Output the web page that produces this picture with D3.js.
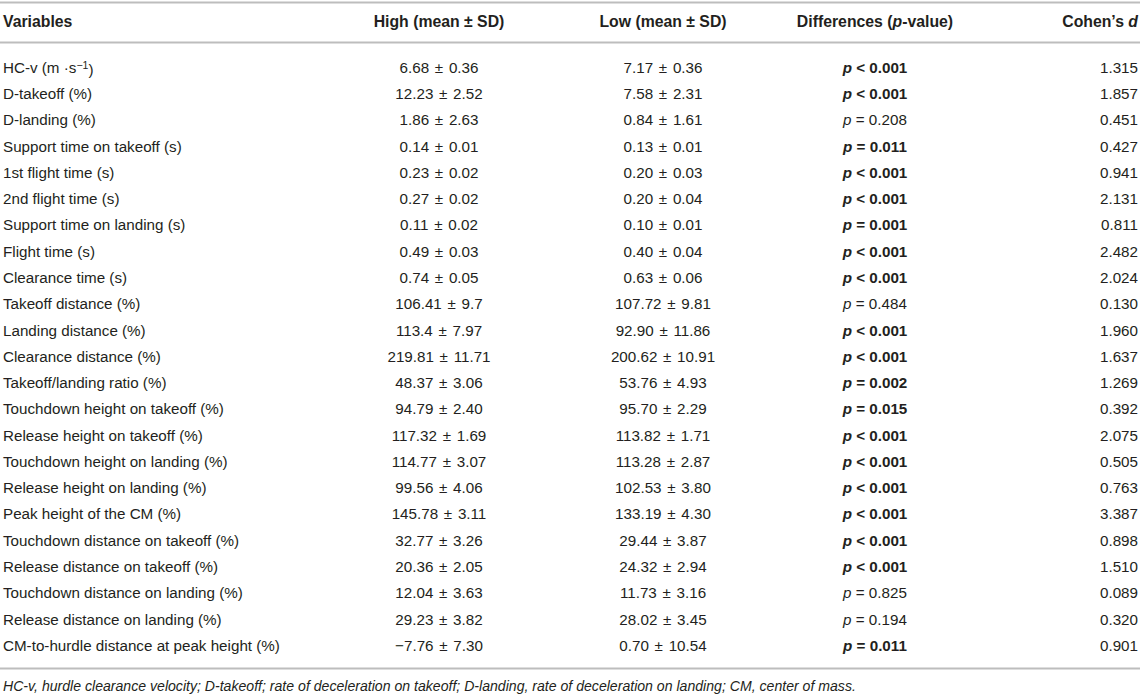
<!DOCTYPE html>
<html>
<head>
<meta charset="utf-8">
<script src="https://cdn.jsdelivr.net/npm/d3@7"></script>
<style>
  body { margin: 0; background: #fff; }
  svg text { font-family: "Liberation Sans", Arial, Helvetica, sans-serif; fill: #231f20; }
</style>
</head>
<body>
<div id="table"></div>
<script>
const variables = [
  'HC-v (m ·s|−1|)', 'D-takeoff (%)', 'D-landing (%)', 'Support time on takeoff (s)',
  '1st flight time (s)', '2nd flight time (s)', 'Support time on landing (s)', 'Flight time (s)',
  'Clearance time (s)', 'Takeoff distance (%)', 'Landing distance (%)', 'Clearance distance (%)',
  'Takeoff/landing ratio (%)', 'Touchdown height on takeoff (%)', 'Release height on takeoff (%)',
  'Touchdown height on landing (%)', 'Release height on landing (%)', 'Peak height of the CM (%)',
  'Touchdown distance on takeoff (%)', 'Release distance on takeoff (%)',
  'Touchdown distance on landing (%)', 'Release distance on landing (%)',
  'CM-to-hurdle distance at peak height (%)'
]
const highMean = ['6.68', '12.23', '1.86', '0.14', '0.23', '0.27', '0.11', '0.49', '0.74', '106.41', '113.4', '219.81',
  '48.37', '94.79', '117.32', '114.77', '99.56', '145.78', '32.77', '20.36', '12.04', '29.23', '−7.76']
const highSD = ['0.36', '2.52', '2.63', '0.01', '0.02', '0.02', '0.02', '0.03', '0.05', '9.7', '7.97', '11.71',
  '3.06', '2.40', '1.69', '3.07', '4.06', '3.11', '3.26', '2.05', '3.63', '3.82', '7.30']
const lowMean = ['7.17', '7.58', '0.84', '0.13', '0.20', '0.20', '0.10', '0.40', '0.63', '107.72', '92.90', '200.62',
  '53.76', '95.70', '113.82', '113.28', '102.53', '133.19', '29.44', '24.32', '11.73', '28.02', '0.70']
const lowSD = ['0.36', '2.31', '1.61', '0.01', '0.03', '0.04', '0.01', '0.04', '0.06', '9.81', '11.86', '10.91',
  '4.93', '2.29', '1.71', '2.87', '3.80', '4.30', '3.87', '2.94', '3.16', '3.45', '10.54']
const pOps = ['<', '<', '=', '=', '<', '<', '=', '<', '<', '=', '<', '<',
  '=', '=', '<', '<', '<', '<', '<', '<', '=', '=', '=']
const pValues = ['0.001', '0.001', '0.208', '0.011', '0.001', '0.001', '0.001', '0.001', '0.001', '0.484', '0.001', '0.001',
  '0.002', '0.015', '0.001', '0.001', '0.001', '0.001', '0.001', '0.001', '0.825', '0.194', '0.011']
const significant = [1, 1, 0, 1, 1, 1, 1, 1, 1, 0, 1, 1, 1, 1, 1, 1, 1, 1, 1, 1, 0, 0, 1]
const cohensD = ['1.315', '1.857', '0.451', '0.427', '0.941', '2.131', '0.811', '2.482', '2.024', '0.130', '1.960', '1.637',
  '1.269', '0.392', '2.075', '0.505', '0.763', '3.387', '0.898', '1.510', '0.089', '0.320', '0.901']
const columns = ['Variables', 'High', 'Low', 'Differences', 'Cohen']
const footnote = 'HC-v, hurdle clearance velocity; D-takeoff; rate of deceleration on takeoff; D-landing, rate of deceleration on landing; CM, center of mass.'

const width = 1143
const height = 696
const FONT_SIZE = 15.2
const HEAD_SIZE = 15.8

const rows = variables.map((v, i) => ({
  variable: v, high: `${highMean[i]} ± ${highSD[i]}`, low: `${lowMean[i]} ± ${lowSD[i]}`,
  op: pOps[i], p: pValues[i], sig: significant[i], d: cohensD[i]
}))

const scaleY = d3.scalePoint().domain(d3.range(rows.length)).range([67.5, 645.5])
const scaleX = d3.scaleOrdinal().domain(columns).range([3, 439, 663, 875, 1138])

const svg = d3.select('#table').append('svg')
  .attr('width', width)
  .attr('height', height)

// rules
const rules = [2.5, 42.5, 668.5]
svg.selectAll('.rule').data(rules)
  .enter().append('line')
    .attr('class', 'rule')
    .attr('x1', 0)
    .attr('x2', 1140)
    .attr('y1', d => d)
    .attr('y2', d => d)
    .style('stroke', '#bdbdbd')
    .style('stroke-width', 2)

// header
const header = svg.append('g').attr('class', 'header')
  .style('font-size', `${HEAD_SIZE}px`)
  .style('font-weight', 'bold')

const headY = 21.5
header.append('text').attr('x', scaleX('Variables')).attr('y', headY).attr('dy', '0.35em').text('Variables')
header.append('text').attr('x', scaleX('High')).attr('y', headY).attr('dy', '0.35em')
  .attr('text-anchor', 'middle').text('High (mean ± SD)')
header.append('text').attr('x', scaleX('Low')).attr('y', headY).attr('dy', '0.35em')
  .attr('text-anchor', 'middle').text('Low (mean ± SD)')
const diffHead = header.append('text').attr('x', scaleX('Differences')).attr('y', headY).attr('dy', '0.35em')
  .attr('text-anchor', 'middle')
diffHead.append('tspan').text('Differences (')
diffHead.append('tspan').style('font-style', 'italic').text('p')
diffHead.append('tspan').text('-value)')
const cohHead = header.append('text').attr('x', scaleX('Cohen')).attr('y', headY).attr('dy', '0.35em')
  .attr('text-anchor', 'end')
cohHead.append('tspan').text('Cohen’s ')
cohHead.append('tspan').style('font-style', 'italic').text('d')

// body rows
const row = svg.selectAll('.row').data(rows)
  .enter().append('g')
    .attr('class', 'row')
    .attr('transform', (d, i) => `translate(0, ${scaleY(i)})`)
    .style('font-size', `${FONT_SIZE}px`)

const varText = row.append('text')
  .attr('x', scaleX('Variables'))
  .attr('dy', '0.35em')

varText.each(function(d) {
  const parts = d.variable.split('|')
  const t = d3.select(this)
  t.append('tspan').text(parts[0])
  if (parts.length > 1) {
    t.append('tspan').attr('dy', '-0.4em').style('font-size', '10.5px').text(parts[1])
    t.append('tspan').attr('dy', '0.4em').text(parts[2])
  }
})

row.append('text')
  .attr('x', scaleX('High'))
  .attr('dy', '0.35em')
  .attr('text-anchor', 'middle')
  .style('word-spacing', '1.5px')
  .text(d => d.high)

row.append('text')
  .attr('x', scaleX('Low'))
  .attr('dy', '0.35em')
  .attr('text-anchor', 'middle')
  .style('word-spacing', '1.5px')
  .text(d => d.low)

const pText = row.append('text')
  .attr('x', scaleX('Differences'))
  .attr('dy', '0.35em')
  .attr('text-anchor', 'middle')
  .style('font-weight', d => d.sig ? 'bold' : 'normal')

pText.append('tspan').style('font-style', 'italic').text('p')
pText.append('tspan').text(d => ` ${d.op} ${d.p}`)

row.append('text')
  .attr('x', scaleX('Cohen'))
  .attr('dy', '0.35em')
  .attr('text-anchor', 'end')
  .text(d => d.d)

// footnote
svg.append('text')
  .attr('x', 3)
  .attr('y', 686)
  .attr('dy', '0.35em')
  .style('font-size', '14.1px')
  .style('font-style', 'italic')
  .text(footnote)
</script>
</body>
</html>
